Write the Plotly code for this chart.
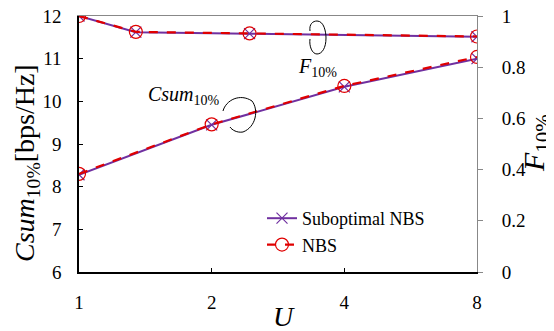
import plotly.graph_objects as go

# Data
U = [1, 2, 4, 8]
csum_subopt = [8.28, 9.45, 10.34, 11.00]
csum_nbs = [8.30, 9.46, 10.36, 11.04]
f_subopt = [1.0, 0.937, 0.931, 0.919]
f_nbs = [1.0, 0.938, 0.932, 0.920]
left_ticks = [6, 7, 8, 9, 10, 11, 12]
right_ticks = [0, 0.2, 0.4, 0.6, 0.8, 1]
right_tick_text = ["0", "0.2", "0.4", "0.6", "0.8", "1"]

PURPLE = "#7030A0"
RED = "#E00000"
FONT = "Liberation Serif, Times New Roman, serif"

fig = go.Figure()

fig.add_trace(go.Scatter(x=U, y=csum_subopt, mode="lines+markers", name="Suboptimal NBS",
                         line=dict(color=PURPLE, width=2),
                         marker=dict(symbol="x-thin-open", size=11, line=dict(color=PURPLE, width=1.2)),
                         xaxis="x", yaxis="y"))
fig.add_trace(go.Scatter(x=U, y=csum_nbs, mode="lines+markers", name="NBS",
                         line=dict(color=RED, width=2.2, dash="dash"),
                         marker=dict(symbol="circle-open", size=13, line=dict(color=RED, width=1.2)),
                         xaxis="x", yaxis="y"))
fig.add_trace(go.Scatter(x=U, y=f_subopt, mode="lines+markers", name="Suboptimal NBS",
                         showlegend=False,
                         line=dict(color=PURPLE, width=2),
                         marker=dict(symbol="x-thin-open", size=11, line=dict(color=PURPLE, width=1.2)),
                         xaxis="x2", yaxis="y2"))
fig.add_trace(go.Scatter(x=U, y=f_nbs, mode="lines+markers", name="NBS",
                         showlegend=False,
                         line=dict(color=RED, width=2.2, dash="dash"),
                         marker=dict(symbol="circle-open", size=13, line=dict(color=RED, width=1.2)),
                         xaxis="x2", yaxis="y2"))

# The page places the figure 8 px in from the top-left corner (body margin),
# so the figure is shrunk by that much and the margins shifted to compensate.
OFF = 8
W, H = 554 - OFF, 331 - OFF
L, R, T, B = 79, 477, 16, 272  # plot area in window pixels


def px(x, y):
    return (x - L) / (R - L), (B - y) / (B - T)


def path_from_pixels(pts):
    conv = [px(*p) for p in pts]
    s = "M %.4f %.4f" % conv[0]
    for i in range(1, len(conv), 3):
        s += " C %.4f %.4f, %.4f %.4f, %.4f %.4f" % (*conv[i], *conv[i + 1], *conv[i + 2])
    return s


shapes = [
    dict(type="path", xref="paper", yref="paper",
         path=path_from_pixels([(223, 111), (226, 100), (240, 93), (252, 101),
                                (259, 110), (256, 127), (243, 132),
                                (237, 133), (232, 130), (230, 127)]),
         line=dict(color="black", width=1)),
    dict(type="path", xref="paper", yref="paper",
         path=path_from_pixels([(310, 31), (309, 24), (313, 21), (317, 21),
                                (324, 21), (326, 32), (326, 38),
                                (326, 48), (322, 54), (317, 54),
                                (312, 54), (309, 46), (310, 39)]),
         line=dict(color="black", width=1)),
]


def ann(text, x, y, size, angle=0, xanchor="center"):
    return dict(text=text, xref="paper", yref="paper", x=px(x, 0)[0], y=px(0, y)[1],
                xanchor=xanchor, yanchor="middle", textangle=angle, showarrow=False,
                font=dict(family=FONT, size=size, color="black"))


annotations = [
    ann("<i>Csum</i><sub>10%</sub>", 146, 95, 20, xanchor="left"),
    ann("<i>F</i><sub>10%</sub>", 296, 67, 20, xanchor="left"),
    ann("<i>Csum</i><sub>10%</sub>[bps/Hz]", 26, 163, 28, angle=-90),
    ann("<i>F</i><sub>10%</sub>", 536, 143, 30, angle=-90),
    ann("<i>U</i>", 284, 316, 28),
]

fig.update_layout(
    width=W, height=H,
    margin=dict(l=L - OFF, r=554 - R, t=T - OFF, b=331 - B, autoexpand=False),
    paper_bgcolor="white", plot_bgcolor="white",
    font=dict(family=FONT, size=18, color="black"),
    xaxis=dict(type="log", range=[0, 0.90309], tickvals=U, ticktext=[str(u) for u in U],
               ticks="inside", ticklen=4, tickcolor="black", showline=True, linecolor="black",
               linewidth=1.5, showgrid=False, zeroline=False, automargin=False,
               ticklabelstandoff=12, ticklabeloverflow="allow",
               tickfont=dict(family=FONT, size=19)),
    xaxis2=dict(range=[1, 8], overlaying="x", side="top", anchor="y", showticklabels=False,
                ticks="", showline=True, linecolor="#888888", linewidth=1, showgrid=False,
                zeroline=False, automargin=False),
    yaxis=dict(range=[6, 12], tickvals=left_ticks, ticks="inside", ticklen=4, tickcolor="black",
               showline=True, linecolor="black", linewidth=1.5, showgrid=False, zeroline=False,
               automargin=False, ticklabelstandoff=12, ticklabeloverflow="allow",
               tickfont=dict(family=FONT, size=19)),
    yaxis2=dict(range=[0, 1], overlaying="y", side="right", anchor="x",
                ticks="outside", ticklen=5, tickcolor="#888888", showline=True,
                linecolor="#888888", linewidth=1, showgrid=False, zeroline=False,
                automargin=False, ticklabelstandoff=15, ticklabeloverflow="allow",
                tickvals=right_ticks, ticktext=right_tick_text,
                tickfont=dict(family=FONT, size=19)),
    legend=dict(x=px(262, 0)[0], y=px(0, 200)[1], xanchor="left", yanchor="top",
                bgcolor="rgba(0,0,0,0)", font=dict(family=FONT, size=18), tracegroupgap=0,
                itemwidth=30),
    shapes=shapes,
    annotations=annotations,
    showlegend=True,
)

fig.write_html("out.html")
